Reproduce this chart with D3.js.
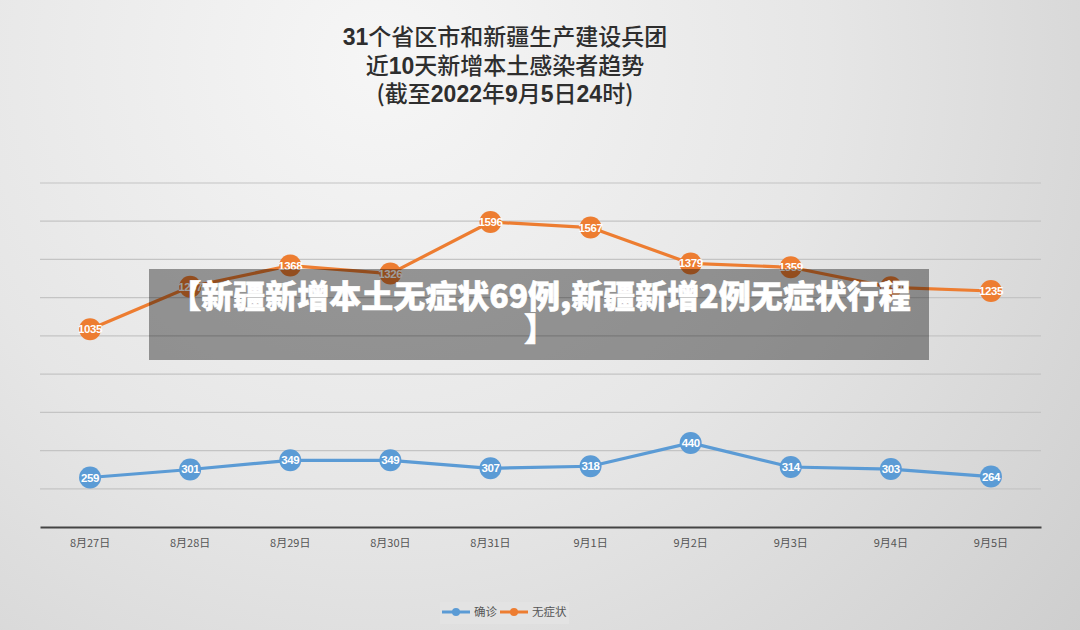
<!DOCTYPE html>
<html><head><meta charset="utf-8">
<script src="https://cdn.jsdelivr.net/npm/d3@7"></script>
<style>html,body{margin:0;padding:0;}svg{display:block;}</style>
</head><body>
<svg id="c" width="1080" height="630"></svg>
<script>
const categories = ["8月27日","8月28日","8月29日","8月30日","8月31日","9月1日","9月2日","9月3日","9月4日","9月5日"];
const confirmed = [259,301,349,349,307,318,440,314,303,264];
const asymptomatic = [1035,1257,1368,1326,1596,1567,1379,1359,1254,1235];
const yTicks = [0,200,400,600,800,1000,1200,1400,1600,1800];
const seriesNames = ["确诊","无症状"];
const titleLines = [
  [["31","d"],["个省区市和新疆生产建设兵团","c"]],
  [["近","c"],["10","d"],["天新增本土感染者趋势","c"]],
  [["(截至","c"],["2022","d"],["年","c"],["9","d"],["月","c"],["5","d"],["日","c"],["24","d"],["时)","c"]]
];
const bannerLines = ["【新疆新增本土无症状69例,新疆新增2例无症状行程","】"];

const svg = d3.select("#c");
const W = 1080, H = 630;
const defs = svg.append("defs");
const rg = defs.append("radialGradient").attr("id","bg").attr("gradientUnits","userSpaceOnUse")
  .attr("cx",380).attr("cy",60).attr("r",1000);
rg.append("stop").attr("offset","0").attr("stop-color","#f6f6f6");
rg.append("stop").attr("offset","0.45").attr("stop-color","#e6e6e6");
rg.append("stop").attr("offset","1").attr("stop-color","#c9c9c9");
svg.append("rect").attr("width",W).attr("height",H).attr("fill","url(#bg)");

// title
const cjk = "'Noto Sans CJK SC','Noto Sans',sans-serif";
const lat = "'Liberation Sans',Arial,sans-serif";
const tY = [45,74,102];
titleLines.forEach((parts,i)=>{
  const t = svg.append("text").attr("x",505).attr("y",tY[i]).attr("text-anchor","middle")
    .attr("font-size",23).attr("fill","#2e2e2e");
  parts.forEach(p=>{
    t.append("tspan").text(p[0])
      .attr("font-family", p[1]==="d"?lat:cjk)
      .attr("font-weight", p[1]==="d"?"bold":"500");
  });
});

const x = d3.scaleBand().domain(categories).range([40,1041]);
const y = d3.scaleLinear().domain([0,1800]).range([527,183]);

// gridlines
svg.append("g").selectAll("line").data(yTicks.filter(d=>d>0)).join("line")
  .attr("x1",40).attr("x2",1041).attr("y1",d=>y(d)).attr("y2",d=>y(d))
  .attr("stroke","#c4c4c4").attr("stroke-width",1.2);

// x axis
const xa = svg.append("g").attr("transform","translate(0,527)")
  .call(d3.axisBottom(x).tickSize(0).tickPadding(12));
xa.select(".domain").attr("stroke","#444").attr("stroke-width",2);
xa.selectAll("text").attr("font-family",cjk).attr("font-size",11).attr("fill","#555");

const series = [
  {name:seriesNames[0], values:confirmed, color:"#5b9bd5"},
  {name:seriesNames[1], values:asymptomatic, color:"#ed7d31"}
];
const line = d3.line().x((d,i)=>x(categories[i])+x.bandwidth()/2).y(d=>y(d));
series.forEach(s=>{
  const g = svg.append("g");
  g.append("path").datum(s.values).attr("d",line).attr("fill","none")
    .attr("stroke",s.color).attr("stroke-width",3.2).attr("stroke-linejoin","round");
  g.selectAll("circle").data(s.values).join("circle")
    .attr("cx",(d,i)=>x(categories[i])+x.bandwidth()/2).attr("cy",d=>y(d))
    .attr("r",11).attr("fill",s.color);
  g.selectAll("text").data(s.values).join("text")
    .attr("x",(d,i)=>x(categories[i])+x.bandwidth()/2).attr("y",d=>y(d)+4)
    .attr("text-anchor","middle").attr("font-family",lat).attr("font-size",11.5)
    .attr("font-weight","bold").attr("fill","#fff").attr("letter-spacing",-0.4).text(d=>d);
});

// legend
const lg = svg.append("g");
lg.append("rect").attr("x",440).attr("y",602).attr("width",129).attr("height",22).attr("fill","#e3e3e3");
const lx = [442,500];
series.forEach((s,i)=>{
  lg.append("line").attr("x1",lx[i]).attr("x2",lx[i]+28).attr("y1",612).attr("y2",612)
    .attr("stroke",s.color).attr("stroke-width",3);
  lg.append("circle").attr("cx",lx[i]+14).attr("cy",612).attr("r",4).attr("fill",s.color);
  lg.append("text").attr("x",lx[i]+32).attr("y",616).attr("font-family",cjk)
    .attr("font-size",11.5).attr("fill","#555").text(s.name);
});

// banner overlay
svg.append("rect").attr("x",149).attr("y",269).attr("width",780).attr("height",91)
  .attr("fill","rgba(0,0,0,0.38)");
bannerLines.forEach((t,i)=>{
  svg.append("text").attr("x",540).attr("y",[308,341][i]).attr("text-anchor","middle")
    .attr("font-family",cjk).attr("font-weight",900).attr("font-size",32)
    .attr("fill","#fff").attr("stroke","#fff").attr("stroke-width",0.6).text(t);
});
</script>
</body></html>
